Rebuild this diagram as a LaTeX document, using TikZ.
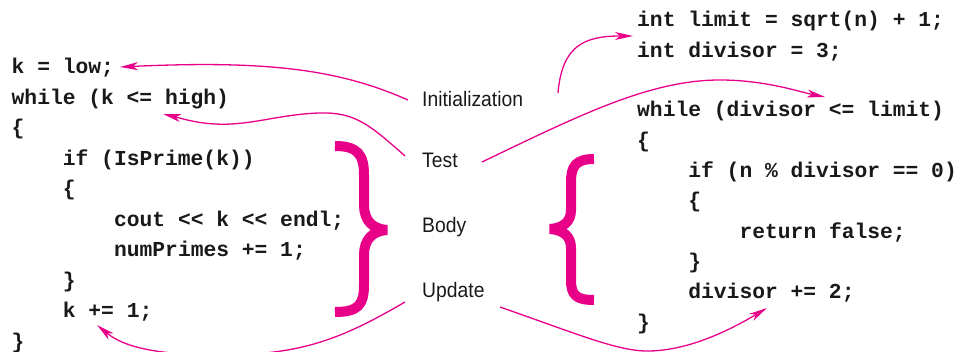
\documentclass[tikz,border=0pt]{standalone}
\usepackage{fontspec}
\usetikzlibrary{arrows.meta}
\newfontfamily\codefont{Liberation Mono}
\newfontfamily\labfont[FakeStretch=0.92]{Liberation Sans}
\definecolor{pinkc}{RGB}{233,0,137}
\definecolor{inkc}{RGB}{25,25,25}
\newcommand{\dlt}{<\kern0pt<}
\begin{document}
\begin{tikzpicture}[x=1pt,y=-1pt,
  code/.style={anchor=base west, inner sep=0pt, text=inkc, font=\codefont\bfseries\fontsize{21.3}{24}\selectfont},
  lab/.style={anchor=base west, inner sep=0pt, text=inkc, font=\labfont\fontsize{21}{24}\selectfont},
  conn/.style={draw=pinkc, line width=1.3pt, -{Stealth[length=18pt,width=8pt,inset=5pt]}},
  brace/.style={draw=pinkc, line width=10pt, line join=miter, miter limit=2}]
\useasboundingbox (0,0) rectangle (956,352);
\clip (0,0) rectangle (956,352);
% left code
\node[code] (l1) at (11.5,74) {k = low;};
\node[code] (l2) at (11.5,104.5) {while (k <= high)};
\node[code] (l3) at (11.5,135) {\{};
\node[code] (l4) at (62.7,165.5) {if (IsPrime(k))};
\node[code] (l5) at (62.7,196) {\{};
\node[code] (l6) at (113.9,226.5) {cout \dlt{} k \dlt{} endl;};
\node[code] (l7) at (113.9,257) {numPrimes += 1;};
\node[code] (l8) at (62.7,287.5) {\}};
\node[code] (l9) at (62.7,318) {k += 1;};
\node[code] (l10) at (11.5,348.5) {\}};
% right code
\node[code] (r1) at (637,27) {int limit = sqrt(n) + 1;};
\node[code] (r2) at (637,57.3) {int divisor = 3;};
\node[code] (r3) at (637,117) {while (divisor <= limit)};
\node[code] (r4) at (637,147.3) {\{};
\node[code] (r5) at (688.2,177.6) {if (n \% divisor == 0)};
\node[code] (r6) at (688.2,207.9) {\{};
\node[code] (r7) at (739.4,238.2) {return false;};
\node[code] (r8) at (688.2,268.5) {\}};
\node[code] (r9) at (688.2,298.8) {divisor += 2;};
\node[code] (r10) at (637,329.1) {\}};
% labels
\node[lab] (init) at (422,107) {Initialization};
\node[lab] (test) at (422,168) {Test};
\node[lab] (body) at (422,233) {Body};
\node[lab] (update) at (422,298) {Update};
% braces
\draw[brace] (335,146) .. controls (358,146) and (364,155) .. (364,175) -- (364,205)
  .. controls (364,220) and (372,229) .. (387,230)
  .. controls (372,231) and (364,240) .. (364,255) -- (364,285)
  .. controls (364,305) and (358,312) .. (335,312);
\draw[brace] (594,159) .. controls (576,159) and (571,166) .. (571,182) -- (571,210)
  .. controls (571,222) and (563,228) .. (550,229)
  .. controls (563,230) and (571,236) .. (571,248) -- (571,280)
  .. controls (571,295) and (576,300) .. (594,300);
% connector end points
\coordinate (i1) at (408,100);
\coordinate (i2) at (558,93);
\coordinate (t1) at (405,156);
\coordinate (t2) at (482,162);
\coordinate (u1) at (405,302);
\coordinate (u2) at (500,307);
\coordinate (e1) at (120,67);
\coordinate (e2) at (163,114);
\coordinate (e3) at (97,325);
\coordinate (e4) at (633,36);
\coordinate (e5) at (825,97);
\coordinate (e6) at (767,308);
% connectors
\draw[conn] (i1) .. controls (340,70) and (270,60) .. (e1);
\draw[conn] (t1) .. controls (370,125) and (355,112) .. (320,113)
  .. controls (280,114) and (250,126) .. (215,124)
  .. controls (195,123) and (180,118) .. (e2);
\draw[conn] (u1) .. controls (340,340) and (300,355) .. (220,355)
  .. controls (160,355) and (125,348) .. (e3);
\draw[conn] (i2) .. controls (562,45) and (585,36) .. (e4);
\draw[conn] (t2) .. controls (580,115) and (650,80) .. (720,80)
  .. controls (765,80) and (800,92) .. (e5);
\draw[conn] (u2) .. controls (580,335) and (620,352) .. (650,351)
  .. controls (690,350) and (730,330) .. (e6);
\end{tikzpicture}
\end{document}
